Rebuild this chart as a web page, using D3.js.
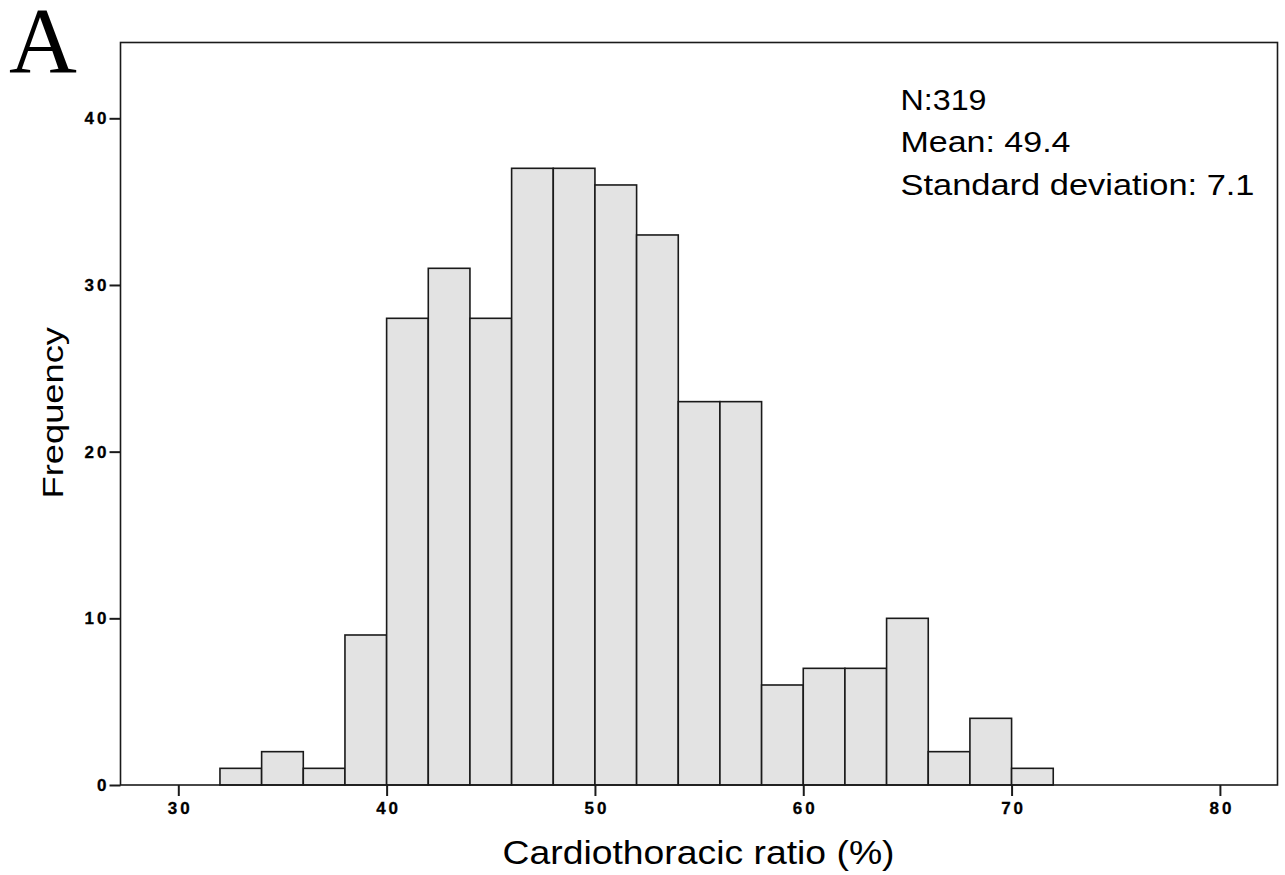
<!DOCTYPE html>
<html>
<head>
<meta charset="utf-8">
<script src="https://cdn.jsdelivr.net/npm/d3@7"></script>
<style>
  html, body { margin: 0; padding: 0; background: #fff; }
  svg { display: block; }
</style>
</head>
<body>
<svg id="chart" width="1285" height="875"></svg>
<script>
// ---- data ----
const binStarts = [32, 34, 36, 38, 40, 42, 44, 46, 48, 50, 52, 54, 56, 58, 60, 62, 64, 66, 68, 70];
const binWidth = 2;
const frequencies = [1, 2, 1, 9, 28, 31, 28, 37, 37, 36, 33, 23, 23, 6, 7, 7, 10, 2, 4, 1];
const xTicks = [30, 40, 50, 60, 70, 80];
const yTicks = [0, 10, 20, 30, 40];
const statsLines = ["N:319", "Mean: 49.4", "Standard deviation: 7.1"];
const xTitle = "Cardiothoracic ratio (%)";
const yTitle = "Frequency";
const panelLabel = "A";

// ---- layout ----
const svg = d3.select("#chart");
const plot = { left: 120.5, right: 1277.5, top: 42.5, bottom: 785 };

const x = d3.scaleLinear().domain([30, 80]).range([178.3, 1219.9]);
const y = d3.scaleLinear().domain([0, 40]).range([785, 118.3]);

const bins = binStarts.map((s, i) => ({ x0: s, x1: s + binWidth, n: frequencies[i] }));

// bars
svg.append("g").selectAll("rect").data(bins).join("rect")
  .attr("x", d => x(d.x0))
  .attr("y", d => y(d.n))
  .attr("width", d => x(d.x1) - x(d.x0))
  .attr("height", d => y(0) - y(d.n))
  .attr("fill", "#e3e3e3")
  .attr("stroke", "#1a1a1a")
  .attr("stroke-width", 1.6);

// frame
svg.append("rect")
  .attr("x", plot.left).attr("y", plot.top)
  .attr("width", plot.right - plot.left).attr("height", plot.bottom - plot.top)
  .attr("fill", "none").attr("stroke", "#1a1a1a").attr("stroke-width", 1.6);

const tickFont = g => g
  .attr("fill", "#000")
  .attr("stroke", "#000")
  .attr("stroke-width", 0.3)
  .attr("font-family", "'Liberation Sans', Arial, sans-serif")
  .attr("font-weight", "bold")
  .attr("font-size", 17)
  .style("letter-spacing", "3px");

// axes
const xAxis = d3.axisBottom(x).tickValues(xTicks).tickSize(11).tickSizeOuter(0).tickPadding(5);
const gx = svg.append("g").attr("transform", `translate(0,${plot.bottom})`).call(xAxis);
gx.select(".domain").remove();
gx.selectAll(".tick line").attr("stroke", "#1a1a1a").attr("stroke-width", 2);
gx.selectAll(".tick text").call(tickFont).attr("dx", "1.5px").attr("y", 17).attr("dy", "0.72em");

const yAxis = d3.axisLeft(y).tickValues(yTicks).tickSize(11).tickSizeOuter(0).tickPadding(0);
const gy = svg.append("g").attr("transform", `translate(${plot.left},0)`).call(yAxis);
gy.select(".domain").remove();
gy.selectAll(".tick line").attr("stroke", "#1a1a1a").attr("stroke-width", 2);
gy.selectAll(".tick text").call(tickFont);

// axis titles
svg.append("text")
  .attr("x", 502.5).attr("y", 864)
  .attr("textLength", 392).attr("lengthAdjust", "spacingAndGlyphs")
  .attr("font-family", "'Liberation Sans', Arial, sans-serif")
  .attr("font-size", 33)
  .attr("fill", "#000")
  .text(xTitle);

svg.append("text")
  .attr("transform", "translate(62.5,498.5) rotate(-90)")
  .attr("textLength", 171.5).attr("lengthAdjust", "spacingAndGlyphs")
  .attr("font-family", "'Liberation Sans', Arial, sans-serif")
  .attr("font-size", 29)
  .attr("fill", "#000")
  .text(yTitle);

// stats text
const statsLen = [86, 170, 354];
svg.append("g").selectAll("text").data(statsLines).join("text")
  .attr("x", 900.5)
  .attr("y", (d, i) => 109.8 + i * 42.4)
  .attr("textLength", (d, i) => statsLen[i]).attr("lengthAdjust", "spacingAndGlyphs")
  .attr("font-family", "'Liberation Sans', Arial, sans-serif")
  .attr("font-size", 29)
  .attr("fill", "#000")
  .text(d => d);

// panel label
svg.append("text")
  .attr("x", 9).attr("y", 72)
  .attr("font-family", "'Liberation Serif', 'Times New Roman', serif")
  .attr("font-size", 94)
  .attr("fill", "#000")
  .text(panelLabel);
</script>
</body>
</html>
